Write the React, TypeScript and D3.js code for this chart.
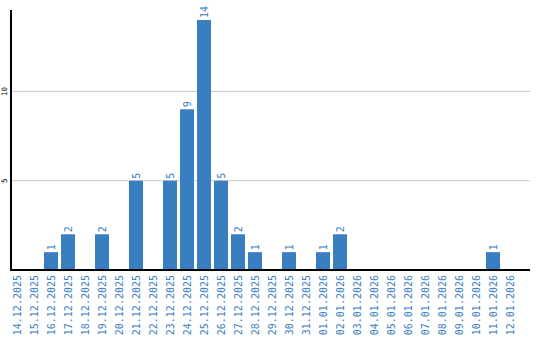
import React from "react";
import * as d3 from "d3";

const dates = [
  "14.12.2025", "15.12.2025", "16.12.2025", "17.12.2025", "18.12.2025",
  "19.12.2025", "20.12.2025", "21.12.2025", "22.12.2025", "23.12.2025",
  "24.12.2025", "25.12.2025", "26.12.2025", "27.12.2025", "28.12.2025",
  "29.12.2025", "30.12.2025", "31.12.2025", "01.01.2026", "02.01.2026",
  "03.01.2026", "04.01.2026", "05.01.2026", "06.01.2026", "07.01.2026",
  "08.01.2026", "09.01.2026", "10.01.2026", "11.01.2026", "12.01.2026",
];
const values = [
  0, 0, 1, 2, 0, 2, 0, 5, 0, 5,
  9, 14, 5, 2, 1, 0, 1, 0, 1, 2,
  0, 0, 0, 0, 0, 0, 0, 0, 1, 0,
];
const yTicks = [5, 10];

const W = 540;
const H = 340;
const BLUE = "#3a7ec2";
const FONT = "'DejaVu Sans Mono', monospace";

export default function App() {
  const x = d3
    .scaleBand<string>()
    .domain(dates)
    .range([10, 517])
    .paddingInner(3 / 17)
    .paddingOuter(0)
    .align(0);
  const y = d3.scaleLinear().domain([0, 14]).range([270, 20]);

  return (
    <svg
      width={W}
      height={H}
      style={{ position: "absolute", left: 0, top: 0, background: "#fff" }}
    >
      {yTicks.map((t) => (
        <g key={t}>
          <line x1={11} x2={530} y1={y(t)} y2={y(t)} stroke="#c8c8c8" strokeWidth={1} />
          <text
            transform={`translate(7,${y(t)}) rotate(-90)`}
            textAnchor="middle"
            fontFamily={FONT}
            fontSize={7.5}
            fill="#000"
          >
            {t}
          </text>
        </g>
      ))}
      {dates.map((d, i) => {
        const v = values[i];
        const bx = x(d)!;
        const cx = bx + x.bandwidth() / 2;
        return (
          <g key={d}>
            {v > 0 && (
              <>
                <rect x={bx} y={y(v)} width={x.bandwidth()} height={y(0) - y(v)} fill={BLUE} />
                <text
                  transform={`translate(${cx + 3.5},${y(v) - 2}) rotate(-90)`}
                  textAnchor="start"
                  fontFamily={FONT}
                  fontSize={10}
                  fill={BLUE}
                >
                  {v}
                </text>
              </>
            )}
            <text
              transform={`translate(${cx + 3.5},275) rotate(-90)`}
              textAnchor="end"
              fontFamily={FONT}
              fontSize={10}
              fill={BLUE}
            >
              {d}
            </text>
          </g>
        );
      })}
      <line x1={11} x2={11} y1={10} y2={271} stroke="#000" strokeWidth={2} />
      <line x1={10} x2={530} y1={270} y2={270} stroke="#000" strokeWidth={2} />
    </svg>
  );
}
